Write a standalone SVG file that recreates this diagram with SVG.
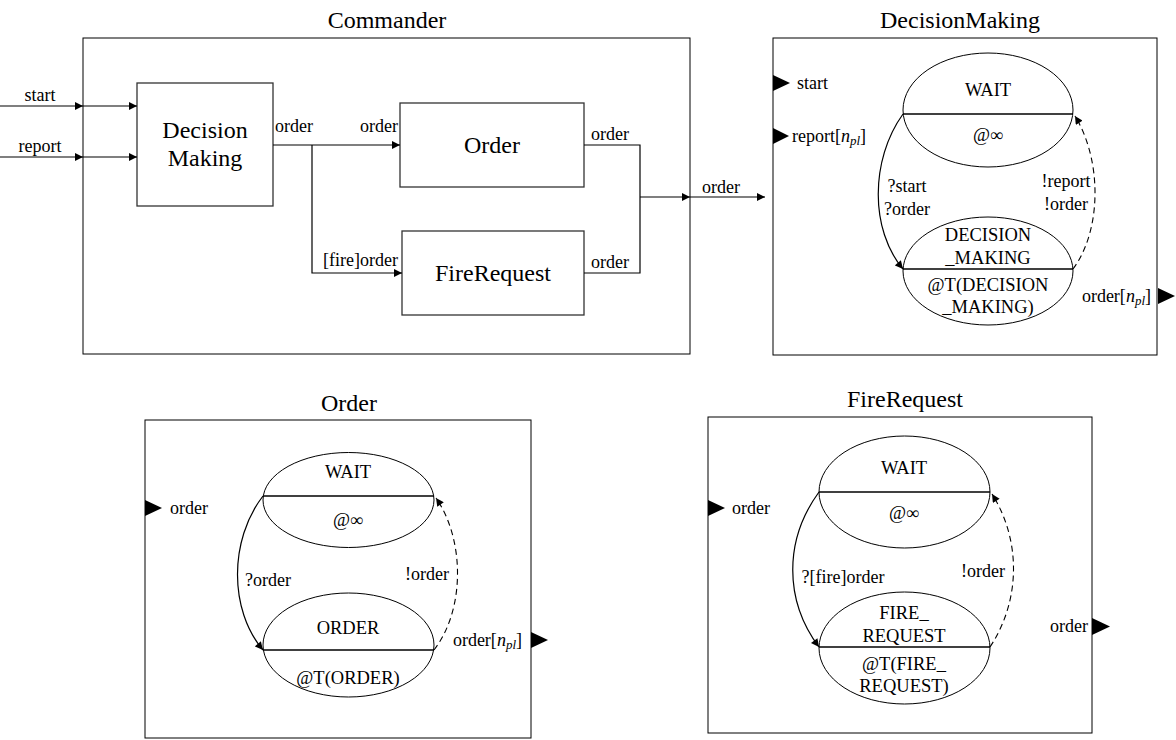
<svg xmlns="http://www.w3.org/2000/svg" width="1176" height="740" viewBox="0 0 1176 740" font-family="'Liberation Serif', 'Times New Roman', serif">
<style>
text{font-family:'Liberation Serif','Times New Roman',serif;fill:#000}
.t{font-size:24px;text-anchor:middle}
.l{font-size:18px}
.c{font-size:18px;text-anchor:middle}
.big{font-size:24px;text-anchor:middle}
.s{font-size:18.5px;text-anchor:middle}
.frame{fill:#fff;stroke:#000;stroke-width:1}
.box{fill:#fff;stroke:#333;stroke-width:1.3}
.ln{fill:none;stroke:#000;stroke-width:1.2}
.dash{fill:none;stroke:#000;stroke-width:1.1;stroke-dasharray:6 4}
.st{fill:#fff;stroke:#000;stroke-width:1}
.div{stroke:#000;stroke-width:1.3}
.port{fill:#000}
</style>
<defs>
<marker id="ah" viewBox="0 0 10 10" refX="10" refY="5" markerWidth="10" markerHeight="8" markerUnits="userSpaceOnUse" orient="auto"><path d="M0,0 L10,5 L0,10 Z" fill="#000"/></marker>
<marker id="ch" viewBox="0 0 10 10" refX="10" refY="5" markerWidth="9" markerHeight="8" markerUnits="userSpaceOnUse" orient="auto"><path d="M0,0 L10,5 L0,10 Z" fill="#000"/></marker>
</defs>

<!-- Commander -->
<g id="commander">
<text class="t" x="387" y="28">Commander</text>
<rect class="frame" x="83" y="38" width="607" height="316"/>
</g>
<g id="cmd-decisionmaking">
<rect class="box" x="137" y="83" width="136" height="123"/>
<text class="big" x="205" y="138">Decision</text>
<text class="big" x="205" y="166">Making</text>
</g>
<g id="cmd-order">
<rect class="box" x="400" y="103" width="184" height="84"/>
<text class="big" x="492" y="153">Order</text>
</g>
<g id="cmd-firerequest">
<rect class="box" x="402" y="231" width="182" height="84"/>
<text class="big" x="493" y="281">FireRequest</text>
</g>
<g id="cmd-connectors">
<line class="ln" x1="0" y1="106" x2="83" y2="106" marker-end="url(#ah)"/>
<line class="ln" x1="83" y1="106" x2="137" y2="106" marker-end="url(#ah)"/>
<line class="ln" x1="0" y1="157" x2="83" y2="157" marker-end="url(#ah)"/>
<line class="ln" x1="83" y1="157" x2="137" y2="157" marker-end="url(#ah)"/>
<line class="ln" x1="273" y1="145" x2="400" y2="145" marker-end="url(#ah)"/>
<polyline class="ln" points="312,145 312,273 402,273" marker-end="url(#ah)"/>
<polyline class="ln" points="584,145 640,145 640,273 584,273"/>
<line class="ln" x1="640" y1="197" x2="690" y2="197" marker-end="url(#ah)"/>
<line class="ln" x1="690" y1="197" x2="765" y2="197" marker-end="url(#ah)"/>
<text class="c" x="40" y="101">start</text>
<text class="c" x="40" y="152">report</text>
<text class="l" x="275" y="132">order</text>
<text class="l" x="398" y="132" text-anchor="end">order</text>
<text class="l" x="398" y="266" text-anchor="end">[fire]order</text>
<text class="l" x="591" y="140">order</text>
<text class="l" x="591" y="268">order</text>
<text class="l" x="702" y="193">order</text>
</g>

<!-- DecisionMaking -->
<g id="decisionmaking">
<text class="t" x="960" y="28">DecisionMaking</text>
<rect class="frame" x="773" y="38" width="384" height="317"/>
<polygon class="port" points="773,75 790,83 773,91"/>
<text class="l" x="797" y="89">start</text>
<polygon class="port" points="773,128 789,136 773,144"/>
<text class="l" x="792" y="142">report[<tspan font-style="italic">n</tspan><tspan font-style="italic" font-size="13" dy="3">pl</tspan><tspan dy="-3">]</tspan></text>
<polygon class="port" points="1158,288 1175,296 1158,304"/>
<text class="l" x="1151" y="302" text-anchor="end">order[<tspan font-style="italic">n</tspan><tspan font-style="italic" font-size="13" dy="3">pl</tspan><tspan dy="-3">]</tspan></text>
</g>
<g id="dm-wait">
<ellipse class="st" cx="988" cy="110" rx="85" ry="57"/>
<line class="div" x1="903" y1="114" x2="1073" y2="114"/>
<text class="s" x="988" y="96">WAIT</text>
<text class="s" x="988" y="141">@∞</text>
</g>
<g id="dm-decision">
<ellipse class="st" cx="988" cy="271" rx="85" ry="54"/>
<line class="div" x1="903" y1="269" x2="1073" y2="269"/>
<text class="s" x="988" y="241">DECISION</text>
<text class="s" x="988" y="264">_MAKING</text>
<text class="s" x="988" y="291">@T(DECISION</text>
<text class="s" x="988" y="313">_MAKING)</text>
</g>
<g id="dm-connectors">
<path class="ln" d="M903,114 C870,160 870,230 903,269" marker-end="url(#ch)"/>
<path class="dash" d="M1073,269 C1102,230 1102,160 1075,116" marker-end="url(#ch)"/>
<text class="c" x="907" y="192">?start</text>
<text class="c" x="907" y="215">?order</text>
<text class="c" x="1066" y="187">!report</text>
<text class="c" x="1066" y="210">!order</text>
</g>

<!-- Order -->
<g id="order">
<text class="t" x="349" y="411">Order</text>
<rect class="frame" x="145" y="420" width="386" height="318"/>
<polygon class="port" points="145,500 162,508 145,516"/>
<text class="l" x="170" y="514">order</text>
<polygon class="port" points="531,632 548,640 531,648"/>
<text class="l" x="522" y="646" text-anchor="end">order[<tspan font-style="italic">n</tspan><tspan font-style="italic" font-size="13" dy="3">pl</tspan><tspan dy="-3">]</tspan></text>
</g>
<g id="order-wait">
<ellipse class="st" cx="348.5" cy="500" rx="85.5" ry="47.5"/>
<line class="div" x1="263" y1="496" x2="434" y2="496"/>
<text class="s" x="348" y="478">WAIT</text>
<text class="s" x="348" y="526">@∞</text>
</g>
<g id="order-order">
<ellipse class="st" cx="348.5" cy="645" rx="85.5" ry="52"/>
<line class="div" x1="263" y1="650" x2="434" y2="650"/>
<text class="s" x="348" y="634">ORDER</text>
<text class="s" x="348" y="684">@T(ORDER)</text>
</g>
<g id="order-connectors">
<path class="ln" d="M263,496 C229,540 229,610 263,650" marker-end="url(#ch)"/>
<path class="dash" d="M434,650 C465,610 465,540 436,498" marker-end="url(#ch)"/>
<text class="c" x="268" y="586">?order</text>
<text class="c" x="427" y="580">!order</text>
</g>

<!-- FireRequest -->
<g id="firerequest">
<text class="t" x="905" y="407">FireRequest</text>
<rect class="frame" x="708" y="417" width="384" height="316"/>
<polygon class="port" points="708,500 725,508 708,516"/>
<text class="l" x="732" y="514">order</text>
<polygon class="port" points="1092,618 1110,626.5 1092,635"/>
<text class="l" x="1088" y="632" text-anchor="end">order</text>
</g>
<g id="fr-wait">
<ellipse class="st" cx="904.5" cy="492" rx="85.5" ry="56"/>
<line class="div" x1="819" y1="492" x2="990" y2="492"/>
<text class="s" x="904" y="474">WAIT</text>
<text class="s" x="904" y="519">@∞</text>
</g>
<g id="fr-fire">
<ellipse class="st" cx="904.5" cy="648" rx="85.5" ry="56"/>
<line class="div" x1="819" y1="647" x2="990" y2="647"/>
<text class="s" x="904" y="619">FIRE_</text>
<text class="s" x="904" y="642">REQUEST</text>
<text class="s" x="904" y="670">@T(FIRE_</text>
<text class="s" x="904" y="692">REQUEST)</text>
</g>
<g id="fr-connectors">
<path class="ln" d="M819,492 C784,540 784,600 819,647" marker-end="url(#ch)"/>
<path class="dash" d="M990,647 C1021,600 1021,540 992,494" marker-end="url(#ch)"/>
<text class="c" x="843" y="583">?[fire]order</text>
<text class="c" x="983" y="577">!order</text>
</g>
</svg>
